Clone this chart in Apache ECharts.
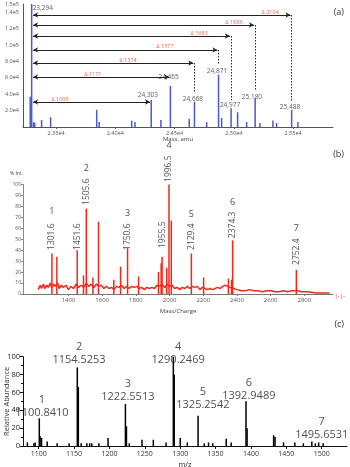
<!DOCTYPE html>
<html lang="en">
<head>
<meta charset="UTF-8">
<title>mass spectra</title>
<style>
  html, body { margin: 0; padding: 0; background: #fff; }
  .box { width: 350px; height: 467px; }
</style>
</head>
<body>
<div class="box"></div>
<script src="https://cdn.jsdelivr.net/npm/echarts@6/dist/echarts.min.js"></script>
<script>
// ---------- panel (a): deconvoluted mass spectrum ----------
const aPeaks = [
  [23294, 150000], [23282, 37000], [23310, 6000], [23320, 5000], [23378, 8500], [23454, 12000],
  [23843, 21000], [23864, 6000], [24138, 7700], [24166, 6000], [24303, 33000], [24385, 8500],
  [24465, 50000], [24624, 10000], [24668, 31000], [24771, 6000], [24871, 64000], [24897, 11000],
  [24977, 23000], [25032, 18000], [25108, 6000], [25180, 35000], [25220, 5000], [25330, 8000],
  [25361, 5000], [25488, 21000], [25541, 6000]
];
const aMain = 23294;
const aTargets = [24303, 24465, 24668, 24871, 24977, 25180, 25488];
const aDiffs = ['1009', '1171', '1374', '1577', '1683', '1886', '2194'];
const aLevels = [30500, 61000, 78000, 94000, 111000, 124400, 136600];
const aDotEnds = [null, null, 42000, 76000, 33000, 45000, 31000];
const aDiffPos = [23533, 23811, 24107, 24419, 24708, 25001, 25307];
const aPeakText = [
  [24275, 39000, '24,303'], [24450, 61000, '24,465'],
  [24655, 34000, '24,668'], [24858, 68000, '24,871'], [24968, 27000, '24,977'],
  [25153, 36600, '25,180'], [25474, 24400, '25,488']
];
const aMainText = [23294, 145000, '23,294'];
const aTicks = [23500, 24000, 24500, 25000, 25500];

// ---------- panel (b): MALDI spectrum ----------
const bPeaks = [
  [1301.6, 37], [1331, 34], [1451.6, 40], [1489, 17], [1505.6, 78], [1545, 15], [1578, 66],
  [1669, 13], [1709, 25], [1750.6, 42], [1816, 16], [1934, 20], [1950, 28], [1955.5, 34],
  [1983, 24], [1996.5, 100], [2010, 67], [2129.4, 37], [2202, 15], [2349, 14], [2368, 13],
  [2374.3, 49], [2752.4, 22]
];
const bNoise = [
  [1220, 4], [1232, 8], [1240, 5], [1252, 9], [1260, 5], [1272, 8], [1280, 6], [1292, 10],
  [1300, 6], [1312, 9], [1320, 7], [1335, 10], [1345, 5], [1358, 8], [1370, 6], [1385, 8],
  [1400, 4], [1415, 7], [1430, 5], [1445, 9], [1460, 6], [1475, 8], [1490, 6], [1505, 10],
  [1520, 7], [1535, 9], [1550, 6], [1565, 9], [1580, 7], [1595, 8], [1610, 5], [1625, 7],
  [1640, 5], [1655, 6], [1670, 4], [1685, 7], [1700, 6], [1715, 8], [1730, 5], [1745, 7],
  [1760, 5], [1775, 7], [1790, 6], [1805, 7], [1820, 5], [1835, 6], [1850, 4], [1865, 6],
  [1880, 5], [1895, 6], [1910, 5], [1925, 8], [1940, 7], [1955, 9], [1970, 6], [1985, 9],
  [2000, 7], [2015, 8], [2030, 5], [2045, 6], [2060, 4], [2075, 6], [2090, 5], [2105, 7],
  [2120, 5], [2135, 7], [2150, 6], [2165, 7], [2180, 4], [2195, 6], [2210, 5], [2225, 4],
  [2240, 5], [2255, 4], [2270, 5], [2285, 6], [2300, 5], [2315, 7], [2330, 8], [2345, 7],
  [2360, 6], [2380, 5], [2400, 4], [2425, 3], [2450, 3], [2475, 4], [2500, 3], [2525, 3],
  [2550, 2], [2575, 3], [2600, 3], [2625, 2], [2650, 2], [2675, 3], [2700, 2], [2725, 3],
  [2740, 3], [2760, 3], [2780, 2], [2820, 2], [2870, 1], [2920, 1], [2950, 1]
];
const bMassText = [
  [1301.6, 40.2, '1301.6'], [1451.6, 40.2, '1451.6'], [1505.6, 81.3, '1505.6'],
  [1750.6, 40.2, '1750.6'], [1955.5, 42, '1955.5'], [1996.5, 102.3, '1996.5'],
  [2129.4, 40.2, '2129.4'], [2374.3, 51, '2374.3'], [2752.4, 26.5, '2752.4']
];
const bNumText = [
  [1301.6, 75, '1'], [1505.6, 115, '2'], [1750.6, 74, '3'], [1996.5, 136, '4'],
  [2129.4, 73, '5'], [2374.3, 84, '6'], [2752.4, 59.5, '7']
];
const bTicks = [1400, 1600, 1800, 2000, 2200, 2400, 2600, 2800];

// ---------- panel (c): ESI spectrum ----------
const cPeaks = [
  [1084, 4], [1093, 3], [1095, 4], [1100.84, 31], [1102, 11], [1104, 9], [1112, 5], [1126, 3],
  [1143, 3], [1154.53, 88], [1156, 66], [1160, 3], [1168, 3], [1172, 3], [1175, 3], [1185, 3],
  [1198, 9], [1222.55, 47], [1224, 22], [1228, 3], [1246, 7], [1262, 7], [1280, 4],
  [1290.25, 100], [1291.5, 80], [1300, 9], [1310, 4], [1325.25, 34], [1334, 3], [1340, 4],
  [1346, 3], [1365, 8], [1372, 4], [1392.95, 50], [1394.5, 20], [1432, 12], [1434, 10],
  [1446, 4], [1462, 4], [1474, 3], [1486, 5], [1491, 3], [1495.65, 4], [1502, 3]
];
const cLabels = [
  [1104.6, 30, '1', '1100.8410'], [1157, 89.6, '2', '1154.5253'], [1226, 48, '3', '1222.5513'],
  [1297, 89, '4', '1290.2469'], [1332, 39, '5', '1325.2542'], [1397, 49, '6', '1392.9489'],
  [1500, 5.6, '7', '1495.6531']
];
const cTicks = [1100, 1150, 1200, 1250, 1300, 1350, 1400, 1450, 1500];

const FONT = 'Open Sans';
const blue = '#4b5ac6';
const red = '#ee2a1c';

let myChart = echarts.init(document.querySelector('.box'));

// arrows and dotted drops for panel (a)
let arrowLines = [];
aTargets.forEach(function (t, i) {
  arrowLines.push([
    { coord: [aMain + 12, aLevels[i]], symbol: 'arrow' },
    { coord: [t - 10, aLevels[i]], symbol: 'arrow' }
  ]);
  if (aDotEnds[i] !== null) {
    arrowLines.push([
      { coord: [t, aLevels[i]], symbol: 'none', lineStyle: { type: [1.5, 1.5], width: 1 } },
      { coord: [t, aDotEnds[i]], symbol: 'none' }
    ]);
  }
});

function sci(v) {
  if (v === 0) return '';
  return v.toExponential(1).replace('+', '');
}

function textLabel(p) { return p.data[2]; }

let option = {
  animation: false,
  textStyle: { fontFamily: FONT },
  grid: [
    { left: 23, top: 4, width: 310, height: 123, outerBoundsMode: 'none' },
    { left: 23, top: 184.5, width: 310, height: 109.5, outerBoundsMode: 'none' },
    { left: 23, top: 356.7, width: 324, height: 89.3, outerBoundsMode: 'none' }
  ],
  xAxis: [
    {
      gridIndex: 0, type: 'value', min: 23221, max: 25837,
      name: 'Mass, amu', nameLocation: 'middle', nameGap: 9, nameMoveOverlap: false,
      nameTextStyle: { fontSize: 6, color: '#444' },
      axisLine: { lineStyle: { color: '#555', width: 1 } },
      axisTick: { show: true, customValues: aTicks, length: 2, lineStyle: { color: '#555' } },
      axisLabel: { customValues: aTicks, fontSize: 5.5, color: '#555', margin: 3,
        formatter: function (v) { return (v / 10000).toFixed(2) + 'e4'; } },
      splitLine: { show: false }
    },
    {
      gridIndex: 1, type: 'value', min: 1130, max: 2970,
      name: 'Mass/Charge', nameLocation: 'middle', nameGap: 14, nameMoveOverlap: false,
      nameTextStyle: { fontSize: 6, color: '#444' },
      axisLine: { lineStyle: { color: '#777', width: 1 } },
      axisTick: { show: true, customValues: bTicks, length: 2, lineStyle: { color: '#777' } },
      axisLabel: { customValues: bTicks, fontSize: 6, color: '#555', margin: 3,
        formatter: function (v) { return String(v); } },
      splitLine: { show: false }
    },
    {
      gridIndex: 2, type: 'value', min: 1077.8, max: 1535.7,
      name: 'm/z', nameLocation: 'middle', nameGap: 15, nameMoveOverlap: false,
      nameTextStyle: { fontSize: 7.5, color: '#222' },
      axisLine: { lineStyle: { color: '#111', width: 1 } },
      axisTick: { show: true, customValues: cTicks, length: 3, lineStyle: { color: '#111' } },
      axisLabel: { customValues: cTicks, fontSize: 7, color: '#333', margin: 4.5,
        formatter: function (v) { return String(v); } },
      splitLine: { show: false }
    }
  ],
  yAxis: [
    {
      gridIndex: 0, type: 'value', min: 0, max: 150000, interval: 20000,
      axisLine: { show: true, lineStyle: { color: '#555', width: 1 } },
      axisTick: { show: false },
      axisLabel: { fontSize: 5.5, color: '#555', margin: 4, formatter: sci },
      splitLine: { show: false }
    },
    {
      gridIndex: 1, type: 'value', min: 0, max: 100, interval: 10,
      name: '% Int.', nameLocation: 'end', nameGap: 8, nameMoveOverlap: false,
      nameTextStyle: { fontSize: 5, color: '#444', align: 'right' },
      axisLine: { show: true, lineStyle: { color: '#888', width: 1 } },
      axisTick: { show: true, length: 2, lineStyle: { color: '#888' } },
      axisLabel: { fontSize: 5, color: '#555', margin: 2 },
      splitLine: { show: false }
    },
    {
      gridIndex: 2, type: 'value', min: 0, max: 100, interval: 20,
      name: 'Relative Abundance', nameLocation: 'middle', nameGap: 12, nameMoveOverlap: false,
      nameTextStyle: { fontSize: 7.5, color: '#333' },
      axisLine: { show: true, lineStyle: { color: '#111', width: 1 } },
      axisTick: { show: true, length: 3, lineStyle: { color: '#111' } },
      minorTick: { show: true, splitNumber: 2, length: 2 },
      axisLabel: { fontSize: 7.5, color: '#222', margin: 3 },
      splitLine: { show: false }
    }
  ],
  graphic: [
    { type: 'text', right: 6, top: 8, style: { text: '(a)', fontSize: 9, fill: '#333', fontFamily: FONT } },
    { type: 'text', right: 6, top: 150, style: { text: '(b)', fontSize: 9, fill: '#333', fontFamily: FONT } },
    { type: 'text', right: 6, top: 320, style: { text: '(c)', fontSize: 9, fill: '#333', fontFamily: FONT } },
    { type: 'text', right: 5, top: 293, style: { text: '|-|-', fontSize: 6, fill: red, fontFamily: FONT } }
  ],
  series: [
    {
      type: 'bar', xAxisIndex: 0, yAxisIndex: 0, barWidth: 1.5,
      itemStyle: { color: blue }, data: aPeaks,
      markLine: {
        silent: true, symbolSize: [4, 5],
        label: { show: false },
        lineStyle: { color: '#222', width: 1, type: 'solid' },
        data: arrowLines
      }
    },
    {
      type: 'scatter', xAxisIndex: 0, yAxisIndex: 0, symbolSize: 0, clip: false,
      data: aTargets.map(function (t, i) { return [aDiffPos[i], aLevels[i], 'Δ ' + aDiffs[i]]; }),
      label: { show: true, position: 'top', distance: 0, fontSize: 5.5, color: '#e8391f', formatter: textLabel }
    },
    {
      type: 'scatter', xAxisIndex: 0, yAxisIndex: 0, symbolSize: 0, clip: false,
      data: aPeakText,
      label: { show: true, position: 'inside', fontSize: 6.5, color: '#333', formatter: textLabel }
    },
    {
      type: 'scatter', xAxisIndex: 0, yAxisIndex: 0, symbolSize: 0, clip: false,
      data: [aMainText],
      label: { show: true, position: 'right', distance: 1, fontSize: 6.5, color: '#333', formatter: textLabel }
    },
    {
      type: 'line', xAxisIndex: 1, yAxisIndex: 1, showSymbol: false,
      lineStyle: { color: red, width: 1.5 }, data: bNoise
    },
    {
      type: 'bar', xAxisIndex: 1, yAxisIndex: 1, barWidth: 1.5,
      itemStyle: { color: red }, data: bPeaks
    },
    {
      type: 'scatter', xAxisIndex: 1, yAxisIndex: 1, symbolSize: 0, clip: false,
      data: bMassText,
      label: { show: true, position: 'inside', rotate: 90, align: 'left', verticalAlign: 'middle',
        fontSize: 8.5, color: '#222', formatter: textLabel }
    },
    {
      type: 'scatter', xAxisIndex: 1, yAxisIndex: 1, symbolSize: 0, clip: false,
      data: bNumText,
      label: { show: true, position: 'inside', fontSize: 9, color: '#222', formatter: textLabel }
    },
    {
      type: 'bar', xAxisIndex: 2, yAxisIndex: 2, barWidth: 1.5,
      itemStyle: { color: '#000' }, data: cPeaks
    },
    {
      type: 'scatter', xAxisIndex: 2, yAxisIndex: 2, symbolSize: 0, clip: false,
      data: cLabels.map(function (l) { return [l[0], l[1], l[2] + '\n' + l[3]]; }),
      label: { show: true, position: 'top', distance: 0, fontSize: 11, lineHeight: 13, color: '#222',
        formatter: textLabel }
    }
  ]
};
myChart.setOption(option);
</script>
</body>
</html>
